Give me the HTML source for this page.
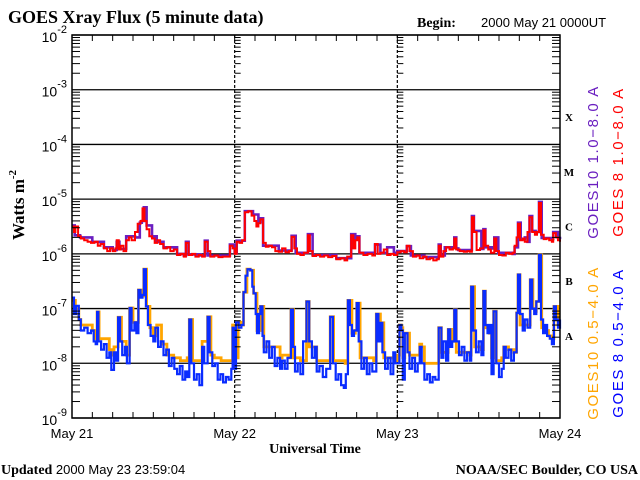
<!DOCTYPE html>
<html><head><meta charset="utf-8"><style>
body{margin:0;background:#fff}
svg{display:block}
</style></head><body>
<svg id="chart" width="640" height="480" xmlns="http://www.w3.org/2000/svg">
<rect width="640" height="480" fill="#fff"/>
<text x="8" y="23" font-family="Liberation Serif, serif" font-weight="bold" font-size="18">GOES Xray Flux (5 minute data)</text>
<text x="417" y="27" font-family="Liberation Serif, serif" font-weight="bold" font-size="14">Begin:</text>
<text x="481" y="27" font-family="Liberation Sans, sans-serif" font-size="13">2000 May 21 0000UT</text>
<text transform="translate(24,205) rotate(-90)" text-anchor="middle" font-family="Liberation Serif, serif" font-weight="bold" font-size="17">Watts m<tspan font-size="11" dy="-8">-2</tspan></text>
<text x="315" y="453" text-anchor="middle" font-family="Liberation Serif, serif" font-weight="bold" font-size="14">Universal Time</text>
<text x="1" y="474" font-family="Liberation Serif, serif" font-weight="bold" font-size="14">Updated <tspan font-family="Liberation Sans, sans-serif" font-weight="normal" font-size="13">2000 May 23 23:59:04</tspan></text>
<text x="638" y="474" text-anchor="end" font-family="Liberation Serif, serif" font-weight="bold" font-size="14">NOAA/SEC Boulder, CO USA</text>
<g id="grid"></g>
<g id="series"></g>
<g id="axes"></g>
<g font-family="Liberation Sans, sans-serif" font-size="15" letter-spacing="1.6">
<text transform="translate(598,162) rotate(-90)" text-anchor="middle" fill="#6a1fc0">GOES10 1.0−8.0 A</text>
<text transform="translate(623,162) rotate(-90)" text-anchor="middle" fill="#ff0000">GOES 8 1.0−8.0 A</text>
<text transform="translate(598,343) rotate(-90)" text-anchor="middle" fill="#ffa500">GOES10 0.5−4.0 A</text>
<text transform="translate(623,343) rotate(-90)" text-anchor="middle" fill="#0000ff">GOES 8 0.5−4.0 A</text>
</g>
</svg>
<script>
const NS="http://www.w3.org/2000/svg";
const dayLabels=["May 21","May 22","May 23","May 24"];
const decadeExps=[-2,-3,-4,-5,-6,-7,-8,-9];
const classLetters=["X","M","C","B","A"];
const classLogs=[-3.5,-4.5,-5.5,-6.5,-7.5];
// hours since May 21 00UT, log10 flux
const g10LongTimes=[0,0.4,1.2,3,4.7,6,6.6,7,8,9.3,10,10.3,10.6,11,11.8,12.5,13.5,15.5,16.5,16.8,17.2,19,19.6,20,21,23,23.3,24,24.3,25,25.5,26.7,27.5,27.8,28.2,29.5,30.5,32,32.4,33,34,34.8,35.5,38.4,39,40.5,41.2,41.8,42.1,42.4,44.3,44.7,45.5,46.5,47.5,48,49,49.4,50,52,54,54.1,54.4,55,56,56.4,56.7,57,58.7,59,59.3,60.4,60.7,61,62,62.3,62.9,65,65.3,65.8,66.2,66.8,67.2,67.5,67.9,68.4,68.9,69.3,70,70.8,71,71.7,72];
const goes10Long=[-5.48,-5.66,-5.7,-5.78,-5.88,-5.93,-5.78,-5.91,-5.68,-5.7,-5.43,-5.4,-5.15,-5.48,-5.68,-5.78,-5.88,-6.0,-6.03,-5.78,-6.01,-6.03,-5.76,-6.03,-6.03,-6.03,-5.83,-5.98,-5.76,-5.76,-5.22,-5.28,-5.42,-5.35,-5.85,-5.85,-5.94,-5.94,-5.67,-5.98,-5.98,-5.64,-6.02,-6.02,-6.08,-6.08,-5.64,-5.73,-5.68,-5.98,-5.98,-5.83,-5.98,-5.88,-5.98,-5.95,-5.95,-5.86,-6.03,-6.06,-6.08,-5.83,-6.03,-5.88,-5.88,-5.7,-5.9,-5.93,-5.93,-5.31,-5.58,-5.91,-5.55,-5.88,-5.9,-5.7,-5.98,-6.0,-5.88,-5.43,-5.73,-5.7,-5.78,-5.31,-5.58,-5.6,-5.05,-5.71,-5.71,-5.73,-5.6,-5.71,-5.73];
const g8LongTimes=[0,0.3,0.5,0.9,1.3,1.8,2.3,2.8,3.3,3.8,4.2,4.7,5.2,5.6,6,6.4,6.6,6.9,7.2,7.6,8,8.4,8.8,9.3,9.7,10.1,10.4,10.7,11,11.4,11.8,12.2,12.6,13,13.5,14,14.5,15,15.5,16,16.5,16.8,17.2,17.7,18.2,18.7,19.2,19.6,20,20.4,21,21.6,22.2,22.8,23.3,23.7,24,24.3,24.7,25.1,25.5,26,26.5,26.9,27.2,27.5,27.8,28.2,28.6,29,29.5,30,30.5,31,31.5,32,32.4,32.8,33.2,33.7,34.2,34.8,35.1,35.5,36,36.6,37.2,37.8,38.4,39,39.6,40.2,40.6,41.2,41.5,41.8,42.1,42.4,43,43.6,44.3,44.7,45.1,45.5,46,46.5,47,47.5,48,48.5,49,49.4,49.8,50.3,50.8,51.3,51.8,52.3,52.8,53.3,53.8,54.1,54.4,54.8,55.2,55.7,56.2,56.4,56.7,57.2,57.8,58.3,58.7,59,59.3,59.7,60.2,60.7,61,61.4,61.8,62.3,62.6,63,63.5,64,64.5,65,65.3,65.6,65.8,66.1,66.5,66.8,67.2,67.5,67.9,68.3,68.6,68.9,69.2,69.6,70,70.4,70.8,71,71.4,71.7,72];
const goes8Long=[-5.5,-5.6,-5.5,-5.68,-5.72,-5.75,-5.78,-5.8,-5.78,-5.85,-5.82,-5.9,-5.95,-5.9,-5.95,-5.9,-5.75,-5.92,-5.85,-5.95,-5.75,-5.7,-5.75,-5.6,-5.45,-5.4,-5.17,-5.4,-5.55,-5.68,-5.72,-5.8,-5.75,-5.82,-5.9,-5.88,-5.95,-5.92,-6.02,-6.0,-6.05,-5.8,-6.02,-6.0,-6.05,-6.02,-6.05,-5.78,-5.95,-6.05,-6.03,-6.06,-6.05,-6.05,-5.85,-5.9,-6.0,-5.78,-5.8,-5.75,-5.24,-5.22,-5.3,-5.4,-5.5,-5.44,-5.37,-5.8,-5.87,-5.85,-5.88,-5.95,-5.96,-5.9,-5.97,-5.95,-5.69,-5.9,-6.0,-6.02,-5.98,-5.66,-5.95,-6.04,-6.02,-6.05,-6.03,-6.06,-6.04,-6.1,-6.08,-6.12,-6.05,-5.66,-5.9,-5.75,-5.7,-5.98,-6.02,-6.0,-6.03,-5.82,-6.0,-5.98,-5.92,-6.02,-6.0,-6.02,-5.97,-5.95,-5.97,-5.85,-5.95,-6.05,-6.03,-6.08,-6.05,-6.1,-6.08,-6.12,-6.1,-5.85,-6.05,-5.95,-5.88,-5.92,-5.9,-5.72,-5.92,-5.95,-5.96,-5.95,-5.96,-5.33,-5.6,-5.93,-5.9,-5.57,-5.85,-5.92,-5.98,-5.72,-5.95,-6.02,-6.03,-5.98,-6.0,-5.98,-5.85,-5.7,-5.45,-5.75,-5.72,-5.78,-5.6,-5.33,-5.6,-5.65,-5.6,-5.07,-5.65,-5.73,-5.72,-5.75,-5.78,-5.62,-5.7,-5.75,-5.78];
const g10ShortTimes=[0,0.5,1,1.3,3,3.3,3.7,4,5.5,5.8,6.2,6.8,7.3,8,8.5,9,9.8,10.3,10.6,11,11.5,12,12.5,13.2,14,15,16,17,17.3,17.8,19,19.2,20,20.5,21,22,23,23.7,24.1,24.5,25,25.3,25.8,26.3,26.8,27.3,27.8,28.3,29,30.7,31,32,32.3,32.7,33.7,34.6,35,35.6,36.1,37.6,38.1,38.6,40.3,40.7,41.3,41.8,42,42.5,44.5,44.9,45.5,46,47.5,48,48.3,48.6,48.8,49.1,49.8,51,51.3,51.6,52,53.5,54.1,54.5,55,55.5,56,56.4,56.7,58.7,58.9,59.4,60.4,60.7,61,61.6,61.9,62.2,62.6,63.4,63.7,64.4,65.2,65.6,65.8,66.1,66.8,67.2,67.6,68,68.3,68.5,68.9,69.3,69.8,70.3,70.8,71.1,71.7,72];
const goes10Short=[-6.85,-7.0,-7.2,-7.3,-7.4,-7.55,-7.06,-7.55,-7.75,-7.85,-7.7,-7.16,-7.6,-7.85,-6.99,-7.25,-6.66,-6.77,-6.28,-6.96,-7.35,-7.5,-7.3,-7.65,-7.85,-7.9,-7.95,-7.9,-7.2,-7.95,-7.95,-7.6,-7.15,-7.85,-7.9,-7.95,-7.95,-7.3,-7.9,-7.25,-7.3,-6.7,-6.28,-6.3,-6.72,-7.4,-6.96,-7.7,-7.7,-7.9,-7.85,-7.9,-7.02,-7.9,-7.95,-6.87,-7.7,-7.7,-7.95,-7.95,-7.15,-7.95,-8.0,-6.85,-7.45,-7.4,-6.9,-7.9,-7.95,-7.1,-7.26,-7.9,-7.95,-7.85,-7.3,-7.35,-7.9,-7.45,-7.85,-7.85,-7.65,-7.7,-8.0,-8.0,-7.35,-7.8,-7.8,-7.38,-7.6,-7.02,-7.8,-7.85,-6.6,-7.7,-7.75,-6.68,-7.35,-7.45,-7.9,-7.05,-7.95,-7.9,-7.7,-7.75,-7.8,-7.08,-6.38,-7.3,-7.3,-7.3,-6.47,-7.0,-7.05,-6.87,-6.02,-7.35,-7.4,-7.5,-7.55,-6.96,-7.3,-7.3];
const g8ShortTimes=[0,0.3,0.6,1,1.3,1.8,2.3,2.8,3.2,3.5,3.7,3.9,4.3,4.7,5.1,5.5,5.8,6.2,6.5,6.8,7.1,7.4,7.8,8.1,8.5,8.8,9.2,9.5,9.8,10.1,10.4,10.6,10.9,11.2,11.6,12,12.3,12.7,13.1,13.5,13.9,14.3,14.7,15.1,15.5,15.9,16.3,16.7,17,17.3,17.6,18,18.4,18.8,19.2,19.5,20,20.3,20.7,21.1,21.5,21.9,22.3,22.7,23.1,23.5,23.7,24,24.2,24.6,25,25.3,25.6,25.9,26.3,26.6,26.8,27.1,27.3,27.6,27.8,28.1,28.3,28.7,29.1,29.5,29.9,30.3,30.7,31,31.4,31.8,32.3,32.6,32.9,33.3,33.7,34.1,34.6,35,35.4,35.8,36.1,36.5,37,37.5,38.1,38.5,38.9,39.3,39.7,40.1,40.4,40.7,41,41.3,41.6,42,42.3,42.7,43.1,43.5,43.9,44.3,44.9,45.2,45.5,45.8,46.2,46.6,47,47.4,47.7,48,48.3,48.6,48.8,49.1,49.5,49.8,50.2,50.6,51,51.3,51.6,52,52.4,52.8,53.2,53.6,54.1,54.5,54.8,55.2,55.5,55.8,56.1,56.4,56.7,57.1,57.5,57.9,58.3,58.7,58.9,59.2,59.6,60,60.4,60.7,61,61.3,61.6,61.9,62.2,62.6,63,63.4,63.7,64,64.4,64.8,65.2,65.6,65.8,66.1,66.5,66.8,67.2,67.6,67.9,68.2,68.5,68.9,69.2,69.5,69.8,70.1,70.5,70.8,71.1,71.4,71.7,72];
const goes8Short=[-6.8,-7.1,-6.95,-7.2,-7.4,-7.35,-7.45,-7.4,-7.6,-7.65,-7.06,-7.6,-7.75,-7.65,-7.9,-7.8,-8.12,-7.8,-7.95,-7.16,-7.6,-7.85,-7.7,-8.0,-6.99,-7.4,-7.25,-7.45,-6.66,-6.8,-6.75,-6.28,-6.96,-7.3,-7.5,-7.6,-7.35,-7.7,-7.6,-7.85,-7.75,-8.05,-7.9,-8.1,-8.2,-8.05,-8.3,-8.15,-8.25,-7.2,-8.0,-8.3,-8.2,-8.4,-7.7,-8.0,-7.15,-7.8,-8.05,-8.0,-8.3,-8.2,-8.35,-8.25,-8.3,-8.1,-7.35,-8.1,-7.25,-7.35,-7.3,-6.7,-6.4,-6.28,-6.3,-6.6,-6.72,-7.1,-7.45,-7.1,-6.96,-7.5,-7.8,-7.6,-7.9,-7.7,-8.05,-7.9,-8.1,-7.95,-8.1,-7.9,-7.02,-7.7,-8.15,-8.0,-8.2,-7.6,-6.87,-7.6,-7.9,-7.7,-8.15,-8.05,-8.25,-8.1,-7.15,-8.0,-8.3,-8.2,-8.4,-8.45,-8.2,-6.85,-7.3,-7.5,-7.4,-6.9,-7.6,-8.1,-7.9,-8.2,-8.0,-8.15,-7.1,-7.6,-7.26,-7.8,-8.1,-7.9,-8.2,-7.8,-8.0,-8.0,-7.3,-7.4,-8.3,-7.45,-7.8,-8.1,-7.9,-8.15,-8.0,-7.7,-8.0,-8.3,-8.2,-8.35,-8.25,-8.3,-7.35,-7.9,-7.6,-7.95,-7.38,-7.7,-7.6,-7.02,-7.6,-7.85,-7.7,-7.95,-7.8,-7.95,-6.6,-7.4,-7.8,-7.6,-7.85,-6.68,-7.3,-7.45,-7.3,-8.2,-7.05,-8.0,-8.25,-8.1,-7.7,-7.9,-7.75,-7.95,-7.8,-7.08,-6.38,-7.1,-7.4,-7.2,-7.35,-6.47,-7.0,-7.1,-6.87,-6.02,-7.2,-7.45,-7.3,-7.5,-7.55,-7.65,-6.96,-7.2,-7.35,-7.2];

const L=72,R=560,T=35,B=418;
const xScale=h=>L+(R-L)*h/72;
const yScale=v=>T+(B-T)*(-2-v)/7;
const grid=document.getElementById('grid'),axes=document.getElementById('axes'),ser=document.getElementById('series');
function mk(tag,attrs,parent){const e=document.createElementNS(NS,tag);for(const k in attrs)e.setAttribute(k,attrs[k]);parent.appendChild(e);return e;}

decadeExps.forEach(ex=>{
  const y=yScale(ex);
  const ln=mk('line',{x1:L,x2:R,y1:y,y2:y,stroke:'#000','stroke-width':1.3},grid);
  
  
  const t=mk('text',{x:67,y:y+7,'text-anchor':'end','font-family':'Liberation Sans, sans-serif','font-size':14},axes);
  
  
  t.innerHTML='10<tspan font-size="11" dy="-9">'+ex+'</tspan>';
  if(ex>-9){for(let m=2;m<=9;m++){
    const yy=yScale(ex-1+Math.log10(m));
    [[L,L+8],[R-8,R],[xScale(24),xScale(24)+6],[xScale(48),xScale(48)+6]].forEach(p=>{
      const tk=mk('line',{x1:p[0],x2:p[1],y1:yy,y2:yy,stroke:'#000','stroke-width':1},axes);
      
      
    });
  }}
});
classLetters.forEach((c,i)=>{
  const t=mk('text',{x:569,y:yScale(classLogs[i])+4,'text-anchor':'middle','font-family':'Liberation Serif, serif','font-weight':'bold','font-size':11},axes);
  
  
  t.textContent=c;
});
[1,2].forEach(d=>{
  const x=xScale(d*24);
  const ln=mk('line',{x1:x,x2:x,y1:T,y2:B,stroke:'#000','stroke-width':1.2,'stroke-dasharray':'3,2'},grid);
  
  
});
for(let h=3;h<72;h+=3){
  const x=xScale(h);
  const tb=mk('line',{x1:x,x2:x,y1:B,y2:B-6,stroke:'#000','stroke-width':1},axes);
  
  
  const tt=mk('line',{x1:x,x2:x,y1:T,y2:T+6,stroke:'#000','stroke-width':1},axes);
  
  
}
dayLabels.forEach((d,i)=>{
  const t=mk('text',{x:xScale(i*24),y:438,'text-anchor':'middle','font-family':'Liberation Sans, sans-serif','font-size':13},axes);
  
  
  t.textContent=d;
});
const frame=mk('rect',{x:L,y:T,width:R-L,height:B-T,fill:'none',stroke:'#000','stroke-width':1.5},axes);



function line(times,vals,color,w,name){
  let d='';
  times.forEach((t,i)=>{
    const x=xScale(t).toFixed(1),y=yScale(vals[i]).toFixed(1);
    if(i===0)d+='M'+x+','+y;else d+='H'+x+'V'+y;
  });
  const p=mk('path',{d:d,fill:'none',stroke:color,'stroke-width':w},ser);
  
  
}
line(g10LongTimes,goes10Long,'#6a1fc0',2.6,'series-goes10-long');
line(g8LongTimes,goes8Long,'#ff0000',2,'series-goes8-long');
line(g10ShortTimes,goes10Short,'#ffa500',2.8,'series-goes10-short');
line(g8ShortTimes,goes8Short,'#0a2cff',2.2,'series-goes8-short');
</script>
</body></html>
